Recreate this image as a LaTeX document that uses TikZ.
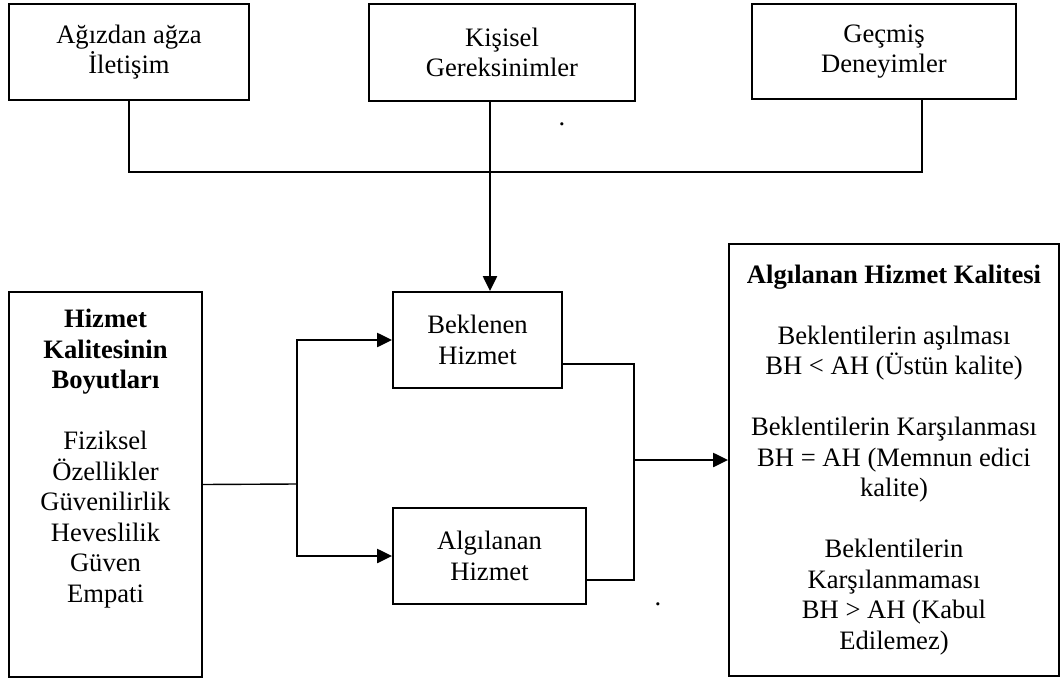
\documentclass[tikz,border=0pt]{standalone}
\usepackage{fontspec}
\setmainfont{Liberation Serif}
\usetikzlibrary{calc,positioning}
\usetikzlibrary{arrows.meta}
\tikzset{>={Triangle[width=7pt,length=7.5pt]}}

\begin{document}
\begin{tikzpicture}[x=0.5pt,y=-0.5pt]
      \tikzstyle{every node} = [font=\fontsize{13.3}{15.25}\selectfont]
      \tikzstyle{bnode} = [draw=black, line width=0.9pt, rectangle, inner sep=0pt, align=center]
      \tikzstyle{link} = [black, line width=0.7pt]
      \tikzstyle{arrow} = [black, line width=1.1pt, ->]

      \useasboundingbox (0,0) rectangle (1061,680);

      \node[bnode, minimum width=120pt, minimum height=48pt] (agiz) at (129,52) {Ağızdan ağza\\ İletişim};
      \node[bnode, minimum width=133pt, minimum height=48.5pt] (kisisel) at (502,52.5) {Kişisel\\ Gereksinimler};
      \node[bnode, minimum width=132pt, minimum height=47.5pt] (gecmis) at (884,51.5) {Geçmiş\\ Deneyimler};
      \node[inner sep=0pt] (dotA) at (562,124) {.};

      \coordinate (hub) at (490,172);
      \draw[link] (agiz.south) |- (hub) -| ($(gecmis.south)+(38,0)$);

      \node[bnode, minimum width=84.5pt, minimum height=48pt] (beklenen) at (477.5,340) {Beklenen\\ Hizmet};
      \node[bnode, minimum width=96.5pt, minimum height=48pt] (algilanan) at (489.5,556) {Algılanan\\ Hizmet};
      \node[inner sep=0pt] (dotB) at (658,604) {.};
      \draw[arrow] (kisisel.south -| hub) -- (beklenen.north -| hub);

      % boyutlar
      \node[bnode, minimum width=96.5pt, minimum height=192.5pt] (boyut) at (105.5,484.5) {};
      \node[anchor=north, align=center, inner sep=0pt] (boyutText) at ($(boyut.north)+(0,18)$)
        {\textbf{Hizmet}\\ \textbf{Kalitesinin}\\ \textbf{Boyutları}\\[15.25pt]
         Fiziksel\\ Özellikler\\ Güvenilirlik\\ Heveslilik\\ Güven\\ Empati};

      \node[bnode, minimum width=165pt, minimum height=216pt] (kalite) at (894,460)
        {\textbf{Algılanan Hizmet Kalitesi}\\[15.25pt]
         Beklentilerin aşılması\\ BH < AH (Üstün kalite)\\[15.25pt]
         Beklentilerin Karşılanması\\ BH = AH (Memnun edici\\ kalite)\\[15.25pt]
         Beklentilerin\\ Karşılanmaması\\ BH > AH (Kabul\\ Edilemez)};

      \coordinate (split) at (297,484);
      \draw[link] (boyut.east) -- (split);
      \draw[arrow] (split) |- (beklenen.west);
      \draw[arrow] (split) |- (algilanan.west);

      \coordinate (merge) at (634,460);
      \draw[link] ([yshift=-12pt]beklenen.east) -| (merge);
      \draw[link] ([yshift=-12pt]algilanan.east) -| (merge);
      \draw[arrow] (merge) -- (kalite.west);

\end{tikzpicture}
\end{document}
